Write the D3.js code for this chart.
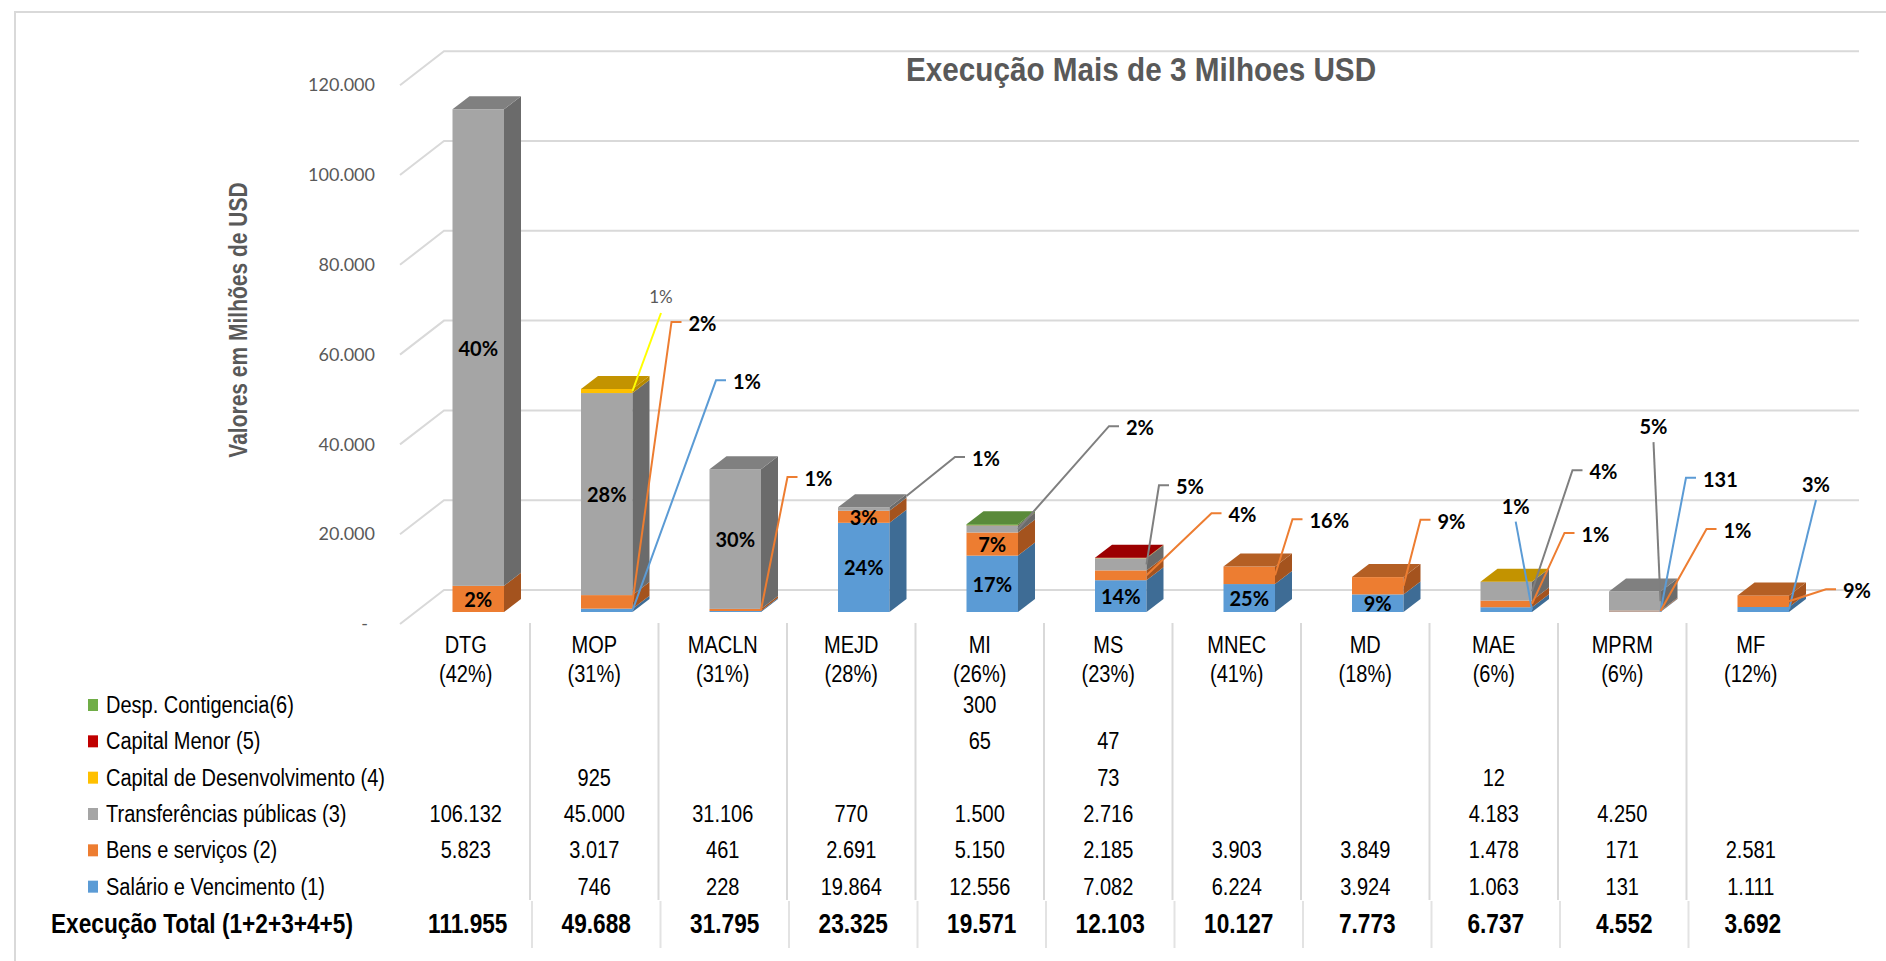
<!DOCTYPE html>
<html>
<head>
<meta charset="utf-8">
<script src="https://cdn.jsdelivr.net/npm/d3@7"></script>
<style>
    body { margin: 0; background: #fff; }
    #chart-area { width: 1886px; height: 961px; }
    svg { display: block; }
</style>
</head>
<body>
<div id="chart-area"></div>
<script>
// ministries and share of budget executed
const categories = ["DTG", "MOP", "MACLN", "MEJD", "MI", "MS", "MNEC", "MD", "MAE", "MPRM", "MF"];
const categoryShares = ["42%", "31%", "31%", "28%", "26%", "23%", "41%", "18%", "6%", "6%", "12%"];

// values in millions USD, null = empty cell
const salario = [null, 746, 228, 19864, 12556, 7082, 6224, 3924, 1063, 131, 1111];
const bens = [5823, 3017, 461, 2691, 5150, 2185, 3903, 3849, 1478, 171, 2581];
const transferencias = [106132, 45000, 31106, 770, 1500, 2716, null, null, 4183, 4250, null];
const capitalDesenv = [null, 925, null, null, null, 73, null, null, 12, null, null];
const capitalMenor = [null, null, null, null, 65, 47, null, null, null, null, null];
const despContingencia = [null, null, null, null, 300, null, null, null, null, null, null];
const totals = [111955, 49688, 31795, 23325, 19571, 12103, 10127, 7773, 6737, 4552, 3692];

// series names, bottom of the stack first
const seriesNames = ["Salário e Vencimento (1)", "Bens e serviços (2)", "Transferências públicas (3)",
    "Capital de Desenvolvimento (4)", "Capital Menor (5)", "Desp. Contigencia(6)"];
const totalLabel = "Execução Total (1+2+3+4+5)";

const yTicks = [0, 20000, 40000, 60000, 80000, 100000, 120000];

// data labels on the bars
const salarioPct = [null, "1%", null, "24%", "17%", "14%", "25%", "9%", "1%", "131", "3%"];
const bensPct = ["2%", "2%", "1%", "3%", "7%", "4%", "16%", "9%", "1%", "1%", "9%"];
const transfPct = ["40%", "28%", "30%", "1%", "2%", "5%", null, null, "4%", "5%", null];
const capDevPct = [null, "1%", null, null, null, null, null, null, null, null, null];

// styles per series (front, side, top face, leader line)
const seriesStyle = [
    {front: "#5B9BD5", side: "#3E6C95", top: "#4A80B2", leader: "#5B9BD5"},
    {front: "#ED7D31", side: "#A4531E", top: "#B45F24", leader: "#ED7D31"},
    {front: "#A5A5A5", side: "#6B6B6B", top: "#808080", leader: "#7F7F7F"},
    {front: "#FFC000", side: "#B58800", top: "#C39300", leader: "#FFFF00"},
    {front: "#C00000", side: "#860000", top: "#9C0000", leader: "#C00000"},
    {front: "#70AD47", side: "#4F7A32", top: "#5A8A3A", leader: "#70AD47"}
];

// leader line layout: "series:category" -> end offset from the segment anchor
const callouts = {
    "3:1": {dx: 28.5, dy: -78, above: true, plain: true},
    "1:1": {dx: 39, dy: -280},
    "0:1": {dx: 83.5, dy: -230},
    "1:2": {dx: 26.5, dy: -133},
    "2:3": {dx: 48.5, dy: -39, side: true},
    "2:4": {dx: 91, dy: -103},
    "2:5": {dx: 12.5, dy: -79},
    "1:5": {dx: 65, dy: -62},
    "1:6": {dx: 17.5, dy: -56},
    "1:7": {dx: 17, dy: -66},
    "0:8": {dx: -16.3, dy: -88, above: true},
    "2:8": {dx: 40.5, dy: -121},
    "1:8": {dx: 32.5, dy: -71},
    "2:9": {dx: -7, dy: -159, above: true},
    "0:9": {dx: 25.5, dy: -134},
    "1:9": {dx: 46, dy: -82},
    "0:10": {dx: 27, dy: -109.5, above: true},
    "1:10": {dx: 37, dy: -12}
};

const locale = d3.formatLocale({decimal: ",", thousands: ".", grouping: [3], currency: ["", ""]});
const fmt = locale.format(",d");

class ExecucaoChart {

    constructor(parentElement) {
        this.parentElement = parentElement;
        this.initVis();
    }

    initVis() {
        let vis = this;

        vis.width = 1886;
        vis.height = 961;

        // 3d look: wall depth, bar offset and bar depth
        vis.wall = {dx: 44, dy: -34};
        vis.barOff = {dx: 12.5, dy: -12};
        vis.barSide = {dx: 17, dy: -13};
        vis.barW = 51.5;
        vis.axisX = 400;
        vis.wallRight = 1859;

        vis.svg = d3.select("#" + vis.parentElement).append("svg")
            .attr("width", vis.width)
            .attr("height", vis.height);

        // outer frame
        vis.svg.append("path")
            .attr("d", `M15,${vis.height} V12 H${vis.width}`)
            .attr("fill", "none")
            .attr("stroke", "#d9d9d9")
            .attr("stroke-width", 2);

        vis.x = d3.scaleBand()
            .domain(categories)
            .range([401.5, 1815])
            .padding(0);

        vis.y = d3.scaleLinear()
            .domain([0, 120000])
            .range([624, 85.2]);

        // grid on the side and back walls
        vis.svg.append("g")
            .attr("fill", "none")
            .attr("stroke", "#d9d9d9")
            .attr("stroke-width", 2)
            .selectAll("path")
            .data(yTicks)
            .enter().append("path")
            .attr("d", d => `M${vis.axisX},${vis.y(d)} L${vis.axisX + vis.wall.dx},${vis.y(d) + vis.wall.dy} H${vis.wallRight}`);

        // y axis labels
        vis.yAxis = d3.axisLeft(vis.y)
            .tickValues(yTicks)
            .tickSize(0)
            .tickPadding(0)
            .tickFormat(d => d === 0 ? "-" : fmt(d));

        vis.yAxisG = vis.svg.append("g")
            .attr("transform", "translate(375,0)")
            .call(vis.yAxis);
        vis.yAxisG.select(".domain").remove();
        vis.yAxisG.selectAll("text")
            .attr("font-family", "Lato, 'Open Sans', sans-serif")
            .attr("font-size", 18)
            .attr("fill", "#595959")
            .attr("dx", d => d === 0 ? -7 : 0);

        // y axis title
        vis.svg.append("text")
            .attr("transform", "translate(238,320) rotate(-90) scale(0.84,1)")
            .attr("text-anchor", "middle")
            .attr("dominant-baseline", "central")
            .attr("font-family", "'Liberation Sans', Arial, sans-serif")
            .attr("font-weight", "bold")
            .attr("font-size", 25)
            .attr("fill", "#595959")
            .text("Valores em Milhões de USD");

        // chart title
        vis.svg.append("text")
            .attr("transform", "translate(1141,81) scale(0.9,1)")
            .attr("text-anchor", "middle")
            .attr("font-family", "'Liberation Sans', Arial, sans-serif")
            .attr("font-weight", "bold")
            .attr("font-size", 33)
            .attr("fill", "#595959")
            .text("Execução Mais de 3 Milhoes USD");

        vis.wrangleData();
    }

    wrangleData() {
        let vis = this;

        vis.seriesData = [salario, bens, transferencias, capitalDesenv, capitalMenor, despContingencia];
        vis.pctData = [salarioPct, bensPct, transfPct, capDevPct, [], []];
        vis.keys = d3.range(vis.seriesData.length);

        vis.rows = categories.map((c, i) => {
            let row = {cat: c};
            vis.keys.forEach(k => row[k] = vis.seriesData[k][i] || 0);
            return row;
        });

        vis.stacked = d3.stack().keys(vis.keys)(vis.rows);

        // flat list of visible segments
        vis.segments = [];
        vis.stacked.forEach((layer, s) => {
            layer.forEach((d, i) => {
                if (d[1] - d[0] > 0) {
                    vis.segments.push({s: s, i: i, y0: d[0], y1: d[1], pct: vis.pctData[s][i]});
                }
            });
        });
        vis.segments.sort((a, b) => a.i - b.i || a.s - b.s);

        // topmost segment per bar gets the top face
        vis.tops = categories.map((c, i) => {
            let segs = vis.segments.filter(d => d.i === i);
            return segs[segs.length - 1];
        });

        vis.updateVis();
    }

    faceLeft(i) {
        let vis = this;
        return vis.x(categories[i]) + vis.x.bandwidth() / 2 + vis.barOff.dx - vis.barW / 2;
    }

    updateVis() {
        let vis = this;
        let w = vis.barW, sd = vis.barSide;

        vis.barG = vis.svg.append("g").attr("class", "bars");

        let seg = vis.barG.selectAll(".segment")
            .data(vis.segments)
            .enter().append("g")
            .attr("class", "segment");

        // front faces
        seg.append("rect")
            .attr("x", d => vis.faceLeft(d.i))
            .attr("y", d => vis.y(d.y1) + vis.barOff.dy)
            .attr("width", w)
            .attr("height", d => vis.y(d.y0) - vis.y(d.y1))
            .attr("fill", d => seriesStyle[d.s].front);

        // side faces
        seg.append("path")
            .attr("d", d => {
                let x1 = vis.faceLeft(d.i) + w;
                let yt = vis.y(d.y1) + vis.barOff.dy, yb = vis.y(d.y0) + vis.barOff.dy;
                return `M${x1},${yb} l${sd.dx},${sd.dy} V${yt + sd.dy} l${-sd.dx},${-sd.dy} Z`;
            })
            .attr("fill", d => seriesStyle[d.s].side);

        // top faces
        vis.barG.selectAll(".top")
            .data(vis.tops)
            .enter().append("path")
            .attr("class", "top")
            .attr("d", d => {
                let x0 = vis.faceLeft(d.i);
                let yt = vis.y(d.y1) + vis.barOff.dy;
                return `M${x0},${yt} l${sd.dx},${sd.dy} h${w} l${-sd.dx},${-sd.dy} Z`;
            })
            .attr("fill", d => seriesStyle[d.s].top);

        // data labels
        let labelled = vis.segments.filter(d => d.pct);
        let inside = labelled.filter(d => !callouts[d.s + ":" + d.i]);
        let outside = labelled.filter(d => callouts[d.s + ":" + d.i]);

        vis.svg.append("g")
            .selectAll("text")
            .data(inside)
            .enter().append("text")
            .attr("x", d => vis.faceLeft(d.i) + w / 2)
            .attr("y", d => (vis.y(d.y0) + vis.y(d.y1)) / 2 + vis.barOff.dy)
            .attr("text-anchor", "middle")
            .attr("dominant-baseline", "central")
            .attr("font-family", "Lato, 'Open Sans', sans-serif")
            .attr("font-weight", "bold")
            .attr("font-size", 20)
            .attr("fill", "#000")
            .text(d => d.pct);

        outside.forEach(d => {
            let c = callouts[d.s + ":" + d.i];
            d.ax = vis.faceLeft(d.i) + w + (c.side ? sd.dx : 0);
            d.ay = (vis.y(d.y0) + vis.y(d.y1)) / 2 + vis.barOff.dy + (c.side ? sd.dy : 0);
            d.ex = d.ax + c.dx;
            d.ey = d.ay + c.dy;
            d.c = c;
        });

        vis.svg.append("g")
            .attr("fill", "none")
            .attr("stroke-width", 2)
            .selectAll("path")
            .data(outside)
            .enter().append("path")
            .attr("stroke", d => seriesStyle[d.s].leader)
            .attr("d", d => `M${d.ax},${d.ay} L${d.ex},${d.ey}` + (d.c.above ? "" : " h10"));

        vis.svg.append("g")
            .selectAll("text")
            .data(outside)
            .enter().append("text")
            .attr("x", d => d.c.above ? d.ex : d.ex + 17)
            .attr("y", d => d.c.above ? d.ey - 16 : d.ey + 1)
            .attr("text-anchor", d => d.c.above ? "middle" : "start")
            .attr("dominant-baseline", "central")
            .attr("font-family", "Lato, 'Open Sans', sans-serif")
            .attr("font-weight", d => d.c.plain ? "normal" : "bold")
            .attr("font-size", d => d.c.plain ? 17 : 20)
            .attr("fill", d => d.c.plain ? "#595959" : "#000")
            .text(d => d.pct);

        vis.drawTable();
    }

    drawTable() {
        let vis = this;
        let font = "'Liberation Sans', Arial, sans-serif";
        let sx = 0.87;
        let cx = c => vis.x(c) + vis.x.bandwidth() / 2;

        // rows from top: series (reversed) then total
        vis.rowY = d3.scaleLinear().domain([0, 6]).range([705, 923]);
        let rowOrder = d3.range(seriesNames.length).reverse();

        let tbl = vis.svg.append("g").attr("class", "table")
            .attr("font-family", font)
            .attr("fill", "#000");

        // column separators
        let seps = categories.slice(1);
        tbl.selectAll(".sep")
            .data(seps)
            .enter().append("line")
            .attr("x1", d => vis.x(d)).attr("x2", d => vis.x(d))
            .attr("y1", 623).attr("y2", 900)
            .attr("stroke", "#d9d9d9").attr("stroke-width", 2);
        tbl.selectAll(".sep2")
            .data(seps)
            .enter().append("line")
            .attr("x1", d => vis.x(d) + 2).attr("x2", d => vis.x(d) + 2)
            .attr("y1", 901).attr("y2", 948)
            .attr("stroke", "#e3e3e3").attr("stroke-width", 2);

        // category headers
        tbl.selectAll(".cat")
            .data(categories)
            .enter().append("text")
            .attr("transform", d => `translate(${cx(d)},645) scale(${sx},1)`)
            .attr("text-anchor", "middle")
            .attr("dominant-baseline", "central")
            .attr("font-size", 23)
            .text(d => d);
        tbl.selectAll(".share")
            .data(categoryShares)
            .enter().append("text")
            .attr("transform", (d, i) => `translate(${cx(categories[i])},674) scale(${sx},1)`)
            .attr("text-anchor", "middle")
            .attr("dominant-baseline", "central")
            .attr("font-size", 23)
            .text(d => "(" + d + ")");

        // row labels with legend keys
        rowOrder.forEach((s, r) => {
            let yy = vis.rowY(r);
            tbl.append("rect")
                .attr("x", 88).attr("y", yy - 6)
                .attr("width", 10).attr("height", 12)
                .attr("fill", seriesStyle[s].front);
            tbl.append("text")
                .attr("transform", `translate(106,${yy}) scale(${sx},1)`)
                .attr("dominant-baseline", "central")
                .attr("font-size", 23)
                .text(seriesNames[s]);

            // keep the column index with each value before dropping empty cells
            let cells = vis.seriesData[s]
                .map((v, i) => ({v: v, cat: categories[i]}))
                .filter(d => d.v !== null);

            tbl.selectAll(".v" + s)
                .data(cells)
                .enter().append("text")
                .attr("transform", d => `translate(${cx(d.cat)},${yy}) scale(${sx},1)`)
                .attr("text-anchor", "middle")
                .attr("dominant-baseline", "central")
                .attr("font-size", 23)
                .text(d => fmt(d.v));
        });

        // totals row
        let ty = vis.rowY(6);
        tbl.append("text")
            .attr("transform", `translate(51,${ty}) scale(0.84,1)`)
            .attr("dominant-baseline", "central")
            .attr("font-size", 27)
            .attr("font-weight", "bold")
            .text(totalLabel);
        tbl.selectAll(".tot")
            .data(totals)
            .enter().append("text")
            .attr("transform", (d, i) => `translate(${cx(categories[i]) + 2},${ty}) scale(0.84,1)`)
            .attr("text-anchor", "middle")
            .attr("dominant-baseline", "central")
            .attr("font-size", 27)
            .attr("font-weight", "bold")
            .text(d => fmt(d));
    }
}

new ExecucaoChart("chart-area");
</script>
</body>
</html>
